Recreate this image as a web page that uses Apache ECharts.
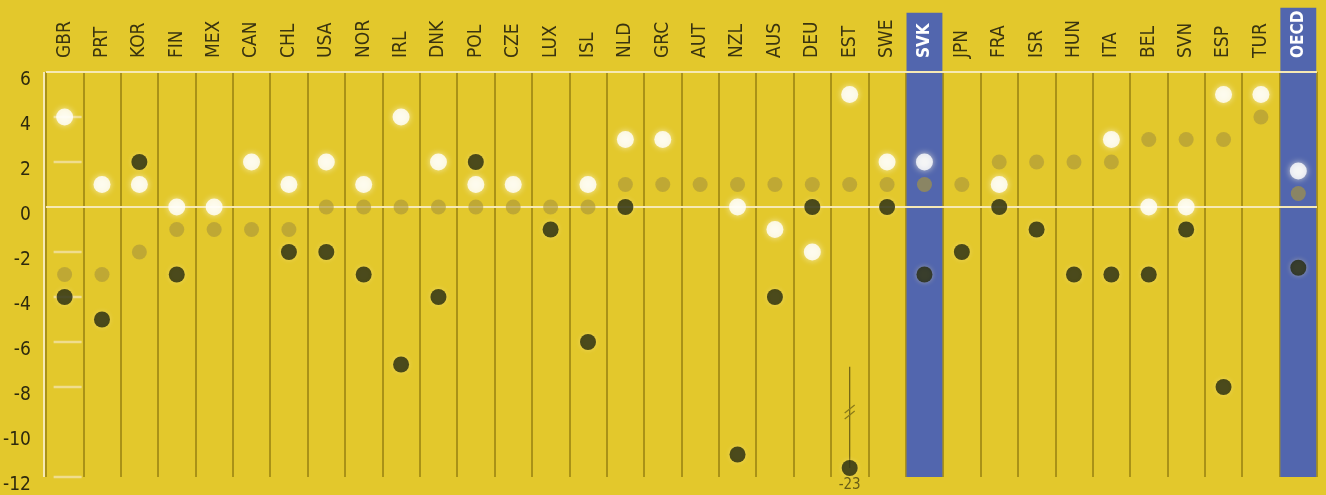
<!DOCTYPE html>
<html>
<head>
<meta charset="utf-8">
<script src="https://cdn.jsdelivr.net/npm/echarts@6/dist/echarts.min.js"></script>
<style>
html,body{margin:0;padding:0;background:#e3c82c;}
#chart{width:1326px;height:495px;}
</style>
</head>
<body>
<div id="chart"></div>
<script>
var categories = ['GBR','PRT','KOR','FIN','MEX','CAN','CHL','USA','NOR','IRL','DNK','POL','CZE','LUX','ISL','NLD','GRC','AUT','NZL','AUS','DEU','EST','SWE','SVK','JPN','FRA','ISR','HUN','ITA','BEL','SVN','ESP','TUR','OECD'];
var whiteVals = [4,1,1,0,0,2,1,2,1,4,2,1,1,null,1,3,3,null,0,-1,-2,5,2,2,null,1,null,null,3,0,0,5,5,1.6];
var midVals   = [-3,-3,-2,-1,-1,-1,-1,0,0,0,0,0,0,0,0,1,1,1,1,1,1,1,1,1,1,2,2,2,2,3,3,3,4,0.6];
var darkVals  = [-4,-5,2,-3,null,null,-2,-2,-3,-7,-4,2,null,-1,-6,0,null,null,-11,-4,0,-23,0,-3,-2,0,-1,-3,-3,-3,-1,-8,null,-2.7];
var highlighted = ['SVK','OECD'];
var bandTops = [8.63, 8.86];
var minorTicks = [4,2,-2,-4,-6,-8,-12];
var axisMin = -12, axisMax = 6, breakPos = -11.6, breakStart = -7.1, slashPos = -9.2;

var FONT = '"Liberation Sans Narrow","DejaVu Sans Condensed","Roboto Condensed",sans-serif';
var LABEL_GAP = 14;

function pts(vals){
  return vals.map(function(v,i){
    if(v===null) return null;
    return {value:[i, v < axisMin ? breakPos : v], real:v};
  }).filter(function(d){return d;});
}

var bandData = highlighted.map(function(c,k){ return [categories.indexOf(c), bandTops[k]]; });
var estIdx = categories.indexOf('EST');

var chart = echarts.init(document.getElementById('chart'));
chart.setOption({
  backgroundColor:'#e3c82c',
  animation:false,
  grid:{left:44, right:9, top:72, bottom:18},
  xAxis:{
    type:'category', data:categories, position:'top', boundaryGap:true,
    axisLine:{show:false}, axisTick:{show:false},
    splitLine:{show:true, interval:0, lineStyle:{color:'#a38c16', width:1.8}},
    axisLabel:{
      interval:0, rotate:90, margin:LABEL_GAP, fontFamily:FONT, fontSize:19, color:'#3a3410',
      formatter:function(v){ return highlighted.indexOf(v)>=0 ? '' : v; }
    }
  },
  yAxis:{
    type:'value', min:axisMin, max:axisMax, interval:2,
    axisLine:{show:false}, axisTick:{show:false}, splitLine:{show:false},
    axisLabel:{margin:15, fontFamily:FONT, fontSize:19, color:'#2e2a0e', verticalAlign:'top', lineHeight:17}
  },
  series:[
    {
      type:'custom', z:1, clip:false, silent:true,
      data:bandData,
      renderItem:function(params, api){
        var idx = api.value(0);
        var top = api.coord([idx, api.value(1)]);
        var bot = api.coord([idx, axisMin]);
        var gridTop = api.coord([idx, axisMax]);
        var w = api.size([1,0])[0]*0.96;
        return {type:'group', children:[
          {type:'rect', shape:{x:top[0]-w/2, y:top[1], width:w, height:bot[1]-top[1]}, style:{fill:'#5266ae'}},
          {type:'text', x:top[0], y:gridTop[1]-LABEL_GAP, rotation:Math.PI/2,
           style:{text:categories[idx], fill:'#ffffff', font:'bold 17px '+FONT, align:'left', verticalAlign:'middle'}}
        ]};
      }
    },
    {
      type:'line', data:[], z:3, silent:true,
      markLine:{
        symbol:'none', silent:true, label:{show:false},
        lineStyle:{color:'#f6e9b4', width:2, type:'solid'},
        data:[{yAxis:6},{yAxis:0},
          [{coord:[0, axisMax], x:44}, {coord:[0, axisMin], x:44}]
        ]
      }
    },
    {
      type:'scatter', z:3, silent:true, symbol:'rect', symbolSize:[28,2.5], symbolOffset:[3,0],
      itemStyle:{color:'#f3e2a6'},
      data:minorTicks.map(function(v){return [0,v];})
    },
    {
      type:'custom', z:4, clip:false, silent:true,
      data:[[estIdx, breakStart, breakPos, slashPos]],
      renderItem:function(params, api){
        var a = api.coord([api.value(0), api.value(1)]);
        var b = api.coord([api.value(0), api.value(2)]);
        var s = api.coord([api.value(0), api.value(3)]);
        return {type:'group', children:[
          {type:'line', shape:{x1:a[0],y1:a[1],x2:b[0],y2:b[1]}, style:{stroke:'#6e6114', lineWidth:1.2}},
          {type:'line', shape:{x1:s[0]-5,y1:s[1]-1,x2:s[0]+5,y2:s[1]-9}, style:{stroke:'#8a7a1a', lineWidth:1.2}},
          {type:'line', shape:{x1:s[0]-5,y1:s[1]+5,x2:s[0]+5,y2:s[1]-3}, style:{stroke:'#8a7a1a', lineWidth:1.2}}
        ]};
      }
    },
    {
      type:'scatter', z:5, symbolSize:15, data:pts(midVals),
      itemStyle:{color:'rgba(170,150,58,0.8)'}
    },
    {
      type:'scatter', z:6, symbolSize:17, data:pts(whiteVals),
      itemStyle:{color:'#ffffff', shadowBlur:6, shadowColor:'rgba(255,250,220,0.9)'}
    },
    {
      type:'scatter', z:7, symbolSize:16, data:pts(darkVals),
      itemStyle:{color:'#22270c', shadowBlur:5, shadowColor:'rgba(255,235,160,0.5)'},
      label:{
        show:true, position:'bottom', distance:2, fontFamily:FONT, fontSize:15, color:'#4a4212',
        formatter:function(p){ return p.data.real < axisMin ? String(p.data.real) : ''; }
      }
    }
  ]
});
</script>
</body>
</html>
